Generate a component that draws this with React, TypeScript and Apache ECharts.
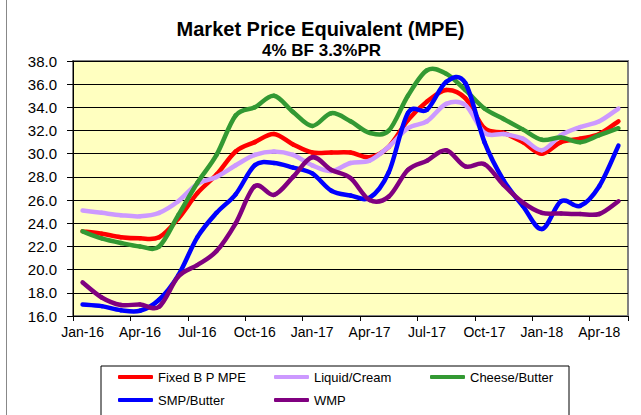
import React, { useEffect, useRef } from "react";
import * as echarts from "echarts";

const months = [
  "Jan-16", "Feb-16", "Mar-16", "Apr-16", "May-16", "Jun-16", "Jul-16", "Aug-16", "Sep-16", "Oct-16", "Nov-16", "Dec-16",
  "Jan-17", "Feb-17", "Mar-17", "Apr-17", "May-17", "Jun-17", "Jul-17", "Aug-17", "Sep-17", "Oct-17", "Nov-17", "Dec-17",
  "Jan-18", "Feb-18", "Mar-18", "Apr-18", "May-18",
];

const fixedBPMPE = [
  23.3, 23.1, 22.8, 22.7, 22.8, 24.4, 26.6, 28.2, 30.2, 31.0, 31.7, 30.8,
  30.1, 30.1, 30.1, 29.7, 30.6, 32.9, 34.5, 35.5, 34.8, 32.2, 31.8, 31.0,
  30.0, 31.0, 31.3, 31.7, 32.8,
];
const liquidCream = [
  25.1, 24.9, 24.7, 24.6, 24.9, 25.9, 27.4, 28.0, 29.0, 29.9, 30.2, 29.9,
  29.0, 28.5, 29.2, 29.4, 30.6, 32.2, 32.8, 34.3, 34.2, 31.8, 31.7, 31.3,
  30.3, 31.6, 32.3, 32.8, 33.9,
];
const cheeseButter = [
  23.3, 22.7, 22.3, 22.0, 22.0, 24.7, 27.5, 29.9, 33.3, 34.0, 35.0, 33.6,
  32.4, 33.5, 32.8, 31.8, 32.0, 35.0, 37.2, 36.9, 35.5, 33.9, 33.0, 32.1,
  31.2, 31.4, 31.0, 31.6, 32.2,
];
const smpButter = [
  17.0, 16.85, 16.5, 16.45, 17.4, 19.5, 22.8, 24.9, 26.5, 29.0, 29.2, 28.8,
  28.3, 26.8, 26.4, 26.2, 28.4, 33.5, 33.8, 36.2, 36.1, 31.0, 27.7, 25.5,
  23.5, 25.9, 25.5, 27.2, 30.7,
];
const wmp = [
  18.9, 17.6, 16.95, 17.0, 16.8, 19.4, 20.4, 21.6, 24.0, 27.2, 26.45, 28.0,
  29.7, 28.6, 27.9, 26.0, 26.3, 28.6, 29.4, 30.3, 28.9, 29.1, 27.3, 25.8,
  24.9, 24.85, 24.8, 24.8, 25.9,
];

const seriesNames = ["Fixed B P MPE", "Liquid/Cream", "Cheese/Butter", "SMP/Butter", "WMP"];
const seriesColors = ["#FF0000", "#CC99FF", "#339933", "#0000FF", "#800080"];
const seriesData = [fixedBPMPE, liquidCream, cheeseButter, smpButter, wmp];

const FONT = "Liberation Sans, Arial, sans-serif";
const LINE_W = 4.5;

function makeRenderItem(values: number[], color: string) {
  return (params: any, api: any) => {
    const i = params.dataIndex;
    const n = values.length;
    if (i >= n - 1) return null;
    const pt = (j: number) => {
      const k = Math.max(0, Math.min(n - 1, j));
      return api.coord([k, values[k]]);
    };
    const p0 = pt(i - 1);
    const p1 = pt(i);
    const p2 = pt(i + 1);
    const p3 = pt(i + 2);
    const cp1x = p1[0] + (p2[0] - p0[0]) / 6;
    const cp1y = p1[1] + (p2[1] - p0[1]) / 6;
    const cp2x = p2[0] - (p3[0] - p1[0]) / 6;
    const cp2y = p2[1] - (p3[1] - p1[1]) / 6;
    return {
      type: "bezierCurve",
      shape: { x1: p1[0], y1: p1[1], cpx1: cp1x, cpy1: cp1y, cpx2: cp2x, cpy2: cp2y, x2: p2[0], y2: p2[1] },
      style: { stroke: color, lineWidth: LINE_W, fill: "none", lineCap: "round", lineJoin: "round" },
      silent: true,
    };
  };
}

export default function App() {
  const ref = useRef<HTMLDivElement>(null);
  useEffect(() => {
    if (!ref.current) return;
    const chart = echarts.init(ref.current, null, { renderer: "svg" });
    const legendText = { fontFamily: FONT, fontSize: 13, color: "#000", lineHeight: 14 };
    const legendBase = {
      orient: "vertical",
      top: 370,
      itemWidth: 35,
      itemHeight: 4,
      itemGap: 9,
      icon: "roundRect",
      selectedMode: false,
      padding: 0,
      textStyle: legendText,
    };
    chart.setOption({
      animation: false,
      backgroundColor: "#fff",
      title: [
        {
          text: "Market Price Equivalent (MPE)",
          left: "center",
          top: 17,
          padding: 0,
          textStyle: { fontFamily: FONT, fontSize: 20, fontWeight: "bold", color: "#000", lineHeight: 24 },
        },
        {
          text: "4% BF 3.3%PR",
          left: 262,
          top: 40,
          padding: 0,
          textStyle: { fontFamily: FONT, fontSize: 17, fontWeight: "bold", color: "#000", lineHeight: 20 },
        },
      ],
      legend: [
        { ...legendBase, left: 118, data: [seriesNames[0], seriesNames[3]] },
        { ...legendBase, left: 274, data: [seriesNames[1], seriesNames[4]] },
        { ...legendBase, left: 430, data: [seriesNames[2]] },
      ],
      grid: {
        left: 73,
        right: 13,
        top: 61,
        bottom: 99,
        show: true,
        backgroundColor: "#FFFFC0",
        borderColor: "#808080",
        borderWidth: 2,
      },
      xAxis: {
        type: "category",
        data: months,
        boundaryGap: true,
        axisLine: { show: true, lineStyle: { color: "#000", width: 1 } },
        axisTick: { show: true, interval: 2, length: 5, lineStyle: { color: "#000" } },
        axisLabel: { interval: 2, margin: 9, fontFamily: FONT, fontSize: 14, color: "#000" },
        splitLine: { show: false },
      },
      yAxis: {
        type: "value",
        min: 16,
        max: 38,
        interval: 2,
        axisLine: { show: true, lineStyle: { color: "#000", width: 1 } },
        axisTick: { show: true, length: 6, lineStyle: { color: "#000" } },
        axisLabel: {
          margin: 16,
          fontFamily: FONT,
          fontSize: 15,
          color: "#000",
          formatter: (v: number) => v.toFixed(1),
        },
        splitLine: { show: true, lineStyle: { color: "#000", width: 1 } },
      },
      series: seriesNames.map((name, i) => ({
        name,
        type: "custom",
        data: seriesData[i].map((v, k) => [k, v]),
        encode: { x: 0, y: 1 },
        itemStyle: { color: seriesColors[i] },
        renderItem: makeRenderItem(seriesData[i], seriesColors[i]),
        z: 2 + i,
      })),
      graphic: [
        {
          type: "rect",
          shape: { x: 101, y: 366, width: 468, height: 60 },
          style: { fill: "none", stroke: "#000", lineWidth: 1 },
          silent: true,
        },
        {
          type: "line",
          shape: { x1: 6.5, y1: 0, x2: 6.5, y2: 415 },
          style: { stroke: "#888", lineWidth: 1 },
          silent: true,
        },
      ],
    });
    return () => chart.dispose();
  }, []);
  return (
    <div
      ref={ref}
      style={{ position: "absolute", left: 0, top: 0, width: 641, height: 415 }}
    />
  );
}
